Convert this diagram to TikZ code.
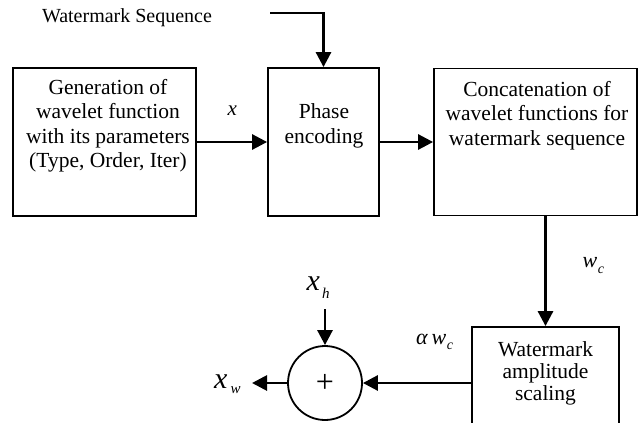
\documentclass[tikz,border=0pt]{standalone}
\usepackage{fontspec}
\setmainfont{Liberation Serif}
\usetikzlibrary{arrows.meta}
\newcommand{\subtxt}[4]{\kern#1pt\raisebox{-#2pt}{\fontsize{#3}{#3}\selectfont #4}}
\begin{document}
\begin{tikzpicture}[x=1pt,y=-1pt]
\tikzstyle{blk} = [draw,line width=1.8pt,inner sep=0pt]
\tikzstyle{txt} = [align=center,font=\fontsize{21.5}{24.5}\selectfont,inner sep=0pt]
\tikzstyle{lbl} = [anchor=base west,inner sep=0pt]
\tikzstyle{sig} = [line width=2.8pt,arrows=-{Triangle[length=15pt,width=15pt]}]
\useasboundingbox (0,0) rectangle (640,423);
\clip (0,0) rectangle (640,423);
\node[blk,minimum width=183,minimum height=148] (gen) at (104.5,142) {};
\node[txt] (gentxt) at (108,125.5) {Generation of\\wavelet function\\with its parameters\\(Type, Order, Iter)};
\node[blk,minimum width=111,minimum height=148] (phase) at (323.5,142) {};
\node[txt] (phasetxt) at (324,126) {Phase\\encoding};
\node[blk,minimum width=203,minimum height=147] (concat) at (535.5,142) {};
\node[txt] (concattxt) at (537,115.5) {Concatenation of\\wavelet functions for\\watermark sequence};
\node[blk,minimum width=147,minimum height=112] (scal) at (545.5,383) {};
\node[txt,font=\fontsize{21.5}{22}\selectfont] (scaltxt) at (545.5,373.5) {Watermark\\amplitude\\scaling};
\node[draw,circle,line width=1.8pt,minimum size=74,inner sep=0pt] (sum) at (325,383) {\fontsize{32}{32}\selectfont +};
\node[txt,font=\fontsize{20}{22}\selectfont] (ws) at (127,18) {Watermark Sequence};
\coordinate (wsin) at (270,13);
\coordinate (xhin) at (325,309);
\coordinate (xwout) at (252,383);
\draw[sig] (wsin) -- (phase.north |- wsin) -- (phase.north);
\draw[sig] (gen) -- (phase);
\draw[sig] (phase) -- (concat);
\draw[sig] (scal.north |- concat.south) -- (scal.north);
\draw[sig] (scal) -- (sum);
\draw[sig] (xhin) -- (sum);
\draw[sig] (sum) -- (xwout);
\node[lbl,font=\fontsize{21}{21}\selectfont\itshape] (xlab) at (227.5,115) {x};
\node[lbl,font=\fontsize{22}{22}\selectfont\itshape] (wclab) at (582.5,267) {w\subtxt{0.5}{6}{14}{c}};
\node[lbl,font=\fontsize{22}{22}\selectfont\itshape] (awlab) at (416,344) {α\kern4pt w\subtxt{0.5}{5}{14}{c}};
\node[lbl,font=\fontsize{30}{30}\selectfont\itshape] (xhlab) at (306.5,290.5) {x\subtxt{2}{8}{15}{h}};
\node[lbl,font=\fontsize{30}{30}\selectfont\itshape] (xwlab) at (214,388) {x\subtxt{3}{5}{15}{w}};
\end{tikzpicture}
\end{document}
